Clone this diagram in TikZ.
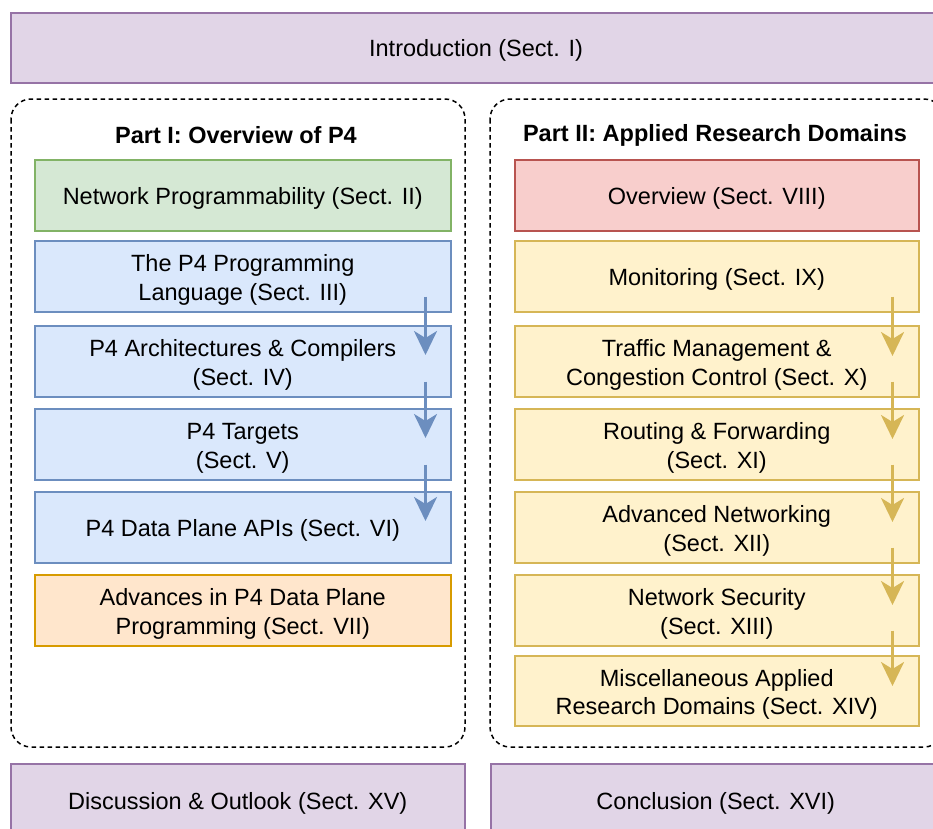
\documentclass[tikz,border=0pt]{standalone}
\usepackage{fontspec}
\setmainfont{Liberation Sans}
\usetikzlibrary{arrows.meta,positioning}
\definecolor{purF}{HTML}{E1D5E7}\definecolor{purD}{HTML}{9673A6}
\definecolor{grnF}{HTML}{D5E8D4}\definecolor{grnD}{HTML}{82B366}
\definecolor{bluF}{HTML}{DAE8FC}\definecolor{bluD}{HTML}{6C8EBF}
\definecolor{orgF}{HTML}{FFE6CC}\definecolor{orgD}{HTML}{D79B00}
\definecolor{redF}{HTML}{F8CECC}\definecolor{redD}{HTML}{B85450}
\definecolor{yelF}{HTML}{FFF2CC}\definecolor{yelD}{HTML}{D6B656}
\newcommand\upstrut{\rule{0pt}{24.4pt}}
\begin{document}
\begin{tikzpicture}[x=1pt,y=-1pt,
  every node/.style={font=\fontsize{23.5}{28.2}\selectfont, align=center, inner sep=0pt,
    execute at begin node={\rule{0pt}{23.6pt}}},
  sect/.style={draw, line width=1.5pt, minimum width=416pt, minimum height=71pt, anchor=north west},
  sectR/.style={sect, minimum width=404pt},
  purbox/.style={draw=purD, fill=purF, line width=1.5pt, anchor=north west},
  partbox/.style={draw, dashed, dash pattern=on 4.5pt off 3.5pt, line width=1.5pt, rounded corners=20pt},
  flowB/.style={draw=bluD, line width=3pt, -{Stealth[length=24pt,width=23pt,inset=7pt]}},
  flowY/.style={draw=yelD, line width=3pt, -{Stealth[length=24pt,width=23pt,inset=7pt]}},
  title/.style={font=\fontsize{23.5}{28.2}\selectfont\bfseries}
]
\useasboundingbox (0,0) rectangle (933,828);
\fill[white] (0,0) rectangle (933,828);

% top and bottom
\node[purbox, minimum width=932pt, minimum height=70pt] (intro) at (10,12) {};
\node at (476,47) (introT) {Introduction (Sect. I)};
\node[purbox, minimum width=454pt, minimum height=72pt] (disc) at (10,763) {Discussion \& Outlook (Sect. XV)};
\node[purbox, minimum width=450pt, minimum height=72pt] (concl) at (490,763) {Conclusion (Sect. XVI)};

% part frames
\draw[partbox] (11,99) rectangle (465,747);
\draw[partbox] (490,99) rectangle (944,747);
\node[title] (t1) at (236,132) {Part I: Overview of P4};
\node[title] (t2) at (715,132) {Part II: Applied Research Domains};

% Part I
\node[sect, draw=grnD, fill=grnF] (np) at (34,159) {Network Programmability (Sect. II)};
\node[sect, draw=bluD, fill=bluF] (pl) at (34,240) {\upstrut The P4 Programming\\Language (Sect. III)};
\node[sect, draw=bluD, fill=bluF] (arch) at (34,325) {\upstrut P4 Architectures \& Compilers\\(Sect. IV)};
\node[sect, draw=bluD, fill=bluF] (tgt) at (34,408) {\upstrut P4 Targets\\(Sect. V)};
\node[sect, draw=bluD, fill=bluF] (api) at (34,491) {P4 Data Plane APIs (Sect. VI)};
\node[sect, draw=orgD, fill=orgF] (adv) at (34,574) {\upstrut Advances in P4 Data Plane\\Programming (Sect. VII)};

% Part II
\node[sectR, draw=redD, fill=redF] (ov) at (514,159) {Overview (Sect. VIII)};
\node[sectR, draw=yelD, fill=yelF] (mon) at (514,240) {Monitoring (Sect. IX)};
\node[sectR, draw=yelD, fill=yelF] (tm) at (514,325) {\upstrut Traffic Management \&\\Congestion Control (Sect. X)};
\node[sectR, draw=yelD, fill=yelF] (rf) at (514,408) {\upstrut Routing \& Forwarding\\(Sect. XI)};
\node[sectR, draw=yelD, fill=yelF] (an) at (514,491) {\upstrut Advanced Networking\\(Sect. XII)};
\node[sectR, draw=yelD, fill=yelF] (ns) at (514,574) {\upstrut Network Security\\(Sect. XIII)};
\node[sectR, draw=yelD, fill=yelF, minimum height=70pt] (misc) at (514,655) {\upstrut Miscellaneous Applied\\Research Domains (Sect. XIV)};

% arrows Part I
\foreach \a/\b in {pl/arch, arch/tgt, tgt/api}{
  \draw[flowB] ([xshift=-26pt,yshift=16pt]\a.south east) -- ([xshift=-26pt,yshift=-30pt]\b.north east);
}
% arrows Part II
\foreach \a/\b in {mon/tm, tm/rf, rf/an, an/ns, ns/misc}{
  \draw[flowY] ([xshift=-27pt,yshift=16pt]\a.south east) -- ([xshift=-27pt,yshift=-31pt]\b.north east);
}
\end{tikzpicture}
\end{document}
